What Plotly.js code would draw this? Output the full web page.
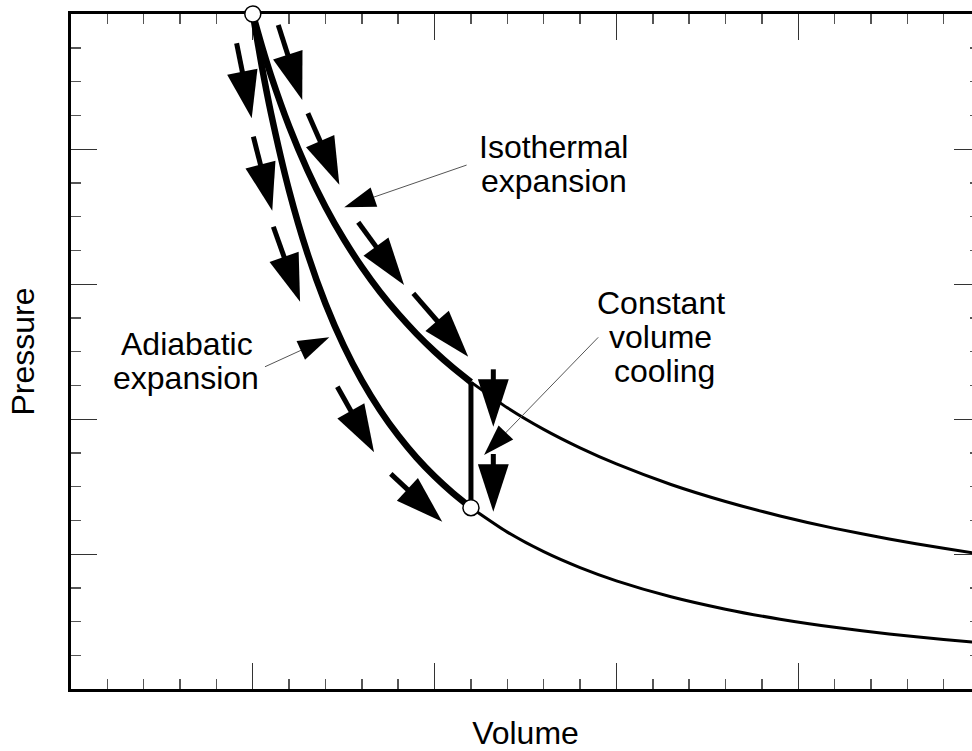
<!DOCTYPE html>
<html>
<head>
<meta charset="utf-8">
<script src="https://cdn.plot.ly/plotly-3.0.1.min.js"></script>
<style>
html, body { margin: 0; padding: 0; overflow: hidden; background: #fff; }
#chart { width: 980px; height: 760px; }
</style>
</head>
<body>
<div id="chart"></div>
<script>
// ---- Data (Volume, Pressure in axis units) ----
// Isothermal expansion (thick part, from start point to the constant-volume step)
const isoHotV = [1.0, 1.05, 1.1, 1.2, 1.3, 1.4, 1.5, 1.6, 1.7, 1.8, 1.9, 2.0, 2.1, 2.2];
const isoHotP = [5.0, 4.762, 4.545, 4.167, 3.846, 3.571, 3.333, 3.125, 2.941, 2.778, 2.632, 2.5, 2.381, 2.273];
// Isothermal continuation (thin)
const isoRestV = [2.2, 2.4, 2.6, 2.8, 3.0, 3.3, 3.6, 3.9, 4.2, 4.5, 4.8, 5.0];
const isoRestP = [2.273, 2.083, 1.923, 1.786, 1.667, 1.515, 1.389, 1.282, 1.190, 1.111, 1.042, 1.0];
// Adiabatic expansion (thick part)
const adiHotV = [1.0, 1.05, 1.1, 1.2, 1.3, 1.4, 1.5, 1.6, 1.7, 1.8, 1.9, 2.0, 2.1, 2.2];
const adiHotP = [5.0, 4.610, 4.266, 3.690, 3.229, 2.854, 2.544, 2.284, 2.065, 1.877, 1.715, 1.575, 1.452, 1.343];
// Adiabatic continuation (thin)
const adiRestV = [2.2, 2.4, 2.6, 2.8, 3.0, 3.3, 3.6, 3.9, 4.2, 4.5, 4.8, 5.0];
const adiRestP = [1.343, 1.162, 1.017, 0.899, 0.801, 0.683, 0.591, 0.517, 0.457, 0.408, 0.366, 0.342];
// Constant volume cooling step
const stepV = [2.2, 2.2];
const stepP = [2.273, 1.343];
// State points (open circles)
const stateV = [1.0, 2.2];
const stateP = [5.0, 1.343];
// Direction arrows: tail -> tip
const dirTailV = [0.911, 1.003, 1.113, 1.465, 1.759, 1.140, 1.303, 1.580, 1.883, 2.323, 2.323];
const dirTailP = [4.783, 4.091, 3.424, 2.239, 1.593, 4.919, 4.264, 3.457, 2.931, 2.368, 1.741];
const dirTipV  = [0.994, 1.107, 1.260, 1.667, 2.042, 1.272, 1.476, 1.832, 2.185, 2.323, 2.323];
const dirTipP  = [4.227, 3.543, 2.869, 1.753, 1.239, 4.363, 3.736, 2.993, 2.461, 1.943, 1.313];
// Label pointer arrows: tail -> tip (Isothermal, Adiabatic, Constant volume)
const ptrTailV = [2.176, 1.067, 2.900];
const ptrTailP = [3.881, 2.387, 2.605];
const ptrTipV  = [1.503, 1.421, 2.272];
const ptrTipP  = [3.568, 2.605, 1.733];
// Text
const xTitle = 'Volume';
const yTitle = 'Pressure';

const FONT = 'Liberation Sans, Arial, Helvetica, sans-serif';

const traces = [];
function curve(x, y, w) {
  traces.push({x: x, y: y, type: 'scatter', mode: 'lines',
    line: {color: '#000', width: w, shape: 'spline', smoothing: 0.6},
    hoverinfo: 'skip', showlegend: false});
}
curve(isoRestV, isoRestP, 3);
curve(adiRestV, adiRestP, 3);
curve(isoHotV, isoHotP, 6.5);
curve(adiHotV, adiHotP, 6.5);
traces.push({x: stepV, y: stepP, type: 'scatter', mode: 'lines',
  line: {color: '#000', width: 5}, hoverinfo: 'skip', showlegend: false});

for (let i = 0; i < dirTailV.length; i++) {
  traces.push({x: [dirTailV[i], dirTipV[i]], y: [dirTailP[i], dirTipP[i]],
    type: 'scatter', mode: 'lines+markers',
    line: {color: '#000', width: 5},
    marker: {symbol: 'arrow', size: [0, 50], angleref: 'previous', color: '#000',
             opacity: 1, line: {width: 0}},
    hoverinfo: 'skip', showlegend: false});
}
for (let i = 0; i < ptrTailV.length; i++) {
  traces.push({x: [ptrTailV[i], ptrTipV[i]], y: [ptrTailP[i], ptrTipP[i]],
    type: 'scatter', mode: 'lines+markers',
    line: {color: '#555', width: 1},
    marker: {symbol: 'arrow', size: [0, 33], angleref: 'previous', color: '#000',
             opacity: 1, line: {width: 0}},
    hoverinfo: 'skip', showlegend: false});
}
traces.push({x: stateV, y: stateP, type: 'scatter', mode: 'markers',
  marker: {size: 16, color: '#fff', opacity: 1, line: {color: '#000', width: 1.5}},
  cliponaxis: false, hoverinfo: 'skip', showlegend: false});

const axisCommon = {
  showline: true, linewidth: 3, linecolor: '#000', mirror: 'ticks',
  ticks: 'inside', ticklen: 26, tickwidth: 1, tickcolor: '#333',
  showticklabels: false, showgrid: false, zeroline: false,
  layer: 'below traces', fixedrange: true
};

function label(text, x, y) {
  return {text: text, x: x, y: y, xref: 'x', yref: 'y', showarrow: false,
    xanchor: 'center', yanchor: 'middle',
    font: {family: FONT, size: 32, color: '#000'}};
}

const layout = {
  width: 980, height: 760,
  margin: {l: 71, r: 0, t: 14, b: 71},
  paper_bgcolor: '#fff', plot_bgcolor: '#fff',
  font: {family: FONT, color: '#000'},
  showlegend: false,
  xaxis: Object.assign({}, axisCommon, {
    range: [0, 5], tick0: 0, dtick: 1,
    minor: {ticks: 'inside', ticklen: 10, tickwidth: 1.5, tickcolor: '#555', dtick: 0.2, showgrid: false},
    title: {text: xTitle, font: {family: FONT, size: 32, color: '#000'}, standoff: 31}
  }),
  yaxis: Object.assign({}, axisCommon, {
    range: [0, 5], tick0: 0, dtick: 1,
    minor: {ticks: 'inside', ticklen: 10, tickwidth: 1.5, tickcolor: '#555', dtick: 0.25, showgrid: false},
    title: {text: yTitle, font: {family: FONT, size: 32, color: '#000'}, standoff: 24}
  }),
  annotations: [
    label('Isothermal', 2.654, 4.013),
    label('expansion', 2.657, 3.761),
    label('Adiabatic', 0.636, 2.555),
    label('expansion', 0.630, 2.303),
    label('Constant', 3.245, 2.859),
    label('volume', 3.240, 2.607),
    label('cooling', 3.262, 2.356)
  ]
};

Plotly.newPlot('chart', traces, layout, {staticPlot: true, displayModeBar: false});
</script>
</body>
</html>
